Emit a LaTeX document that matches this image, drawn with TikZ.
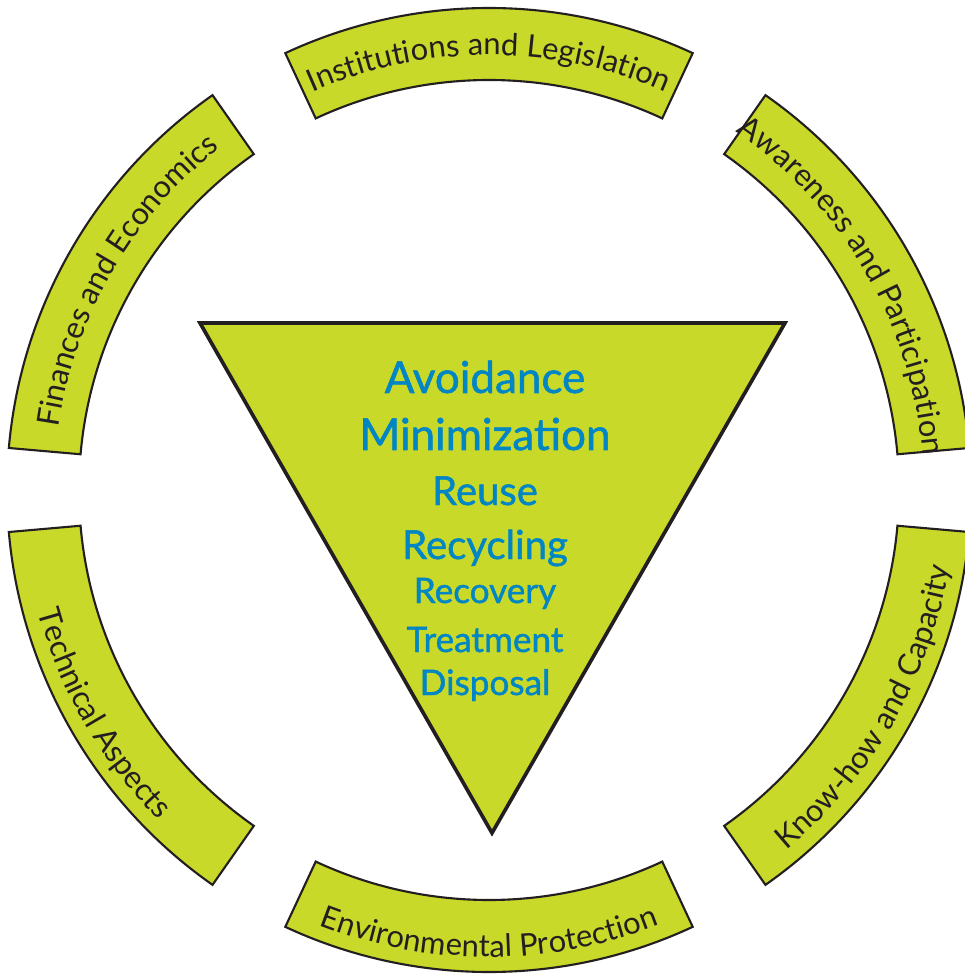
\documentclass[tikz,border=0pt]{standalone}
\usepackage{fontspec}
\setmainfont{Lato}
\newfontfamily\levelfont{Lato}[FakeBold=1.2]
\usepackage{tikz}
\usetikzlibrary{decorations.text}

\definecolor{lime}{RGB}{200,217,41}
\definecolor{hierblue}{RGB}{0,134,196}
\definecolor{outline}{RGB}{35,31,32}

\newcommand{\bandfont}{\fontsize{22}{26}\selectfont}

\begin{document}
\begin{tikzpicture}[x=0.25mm, y=0.25mm,
        band/.style={fill=lime, draw=outline, line width=1.5pt},
        tri/.style={fill=lime, draw=outline, line width=2.6pt, line join=miter},
        level/.style={text=hierblue, anchor=base, inner sep=0pt},
        bandtext/.style={decorate, decoration={text along path, text align=center,
            text color=outline, text={|\bandfont|#1}}}]
        \useasboundingbox (-489,-484) rectangle (476,490);

        % ring of six bands
        \foreach \a in {90,30,-30,-90,-150,150} {
            \draw[band] ({\a+25}:410) arc[start angle=\a+25, end angle=\a-25, radius=410]
                -- ({\a-25}:482) arc[start angle=\a-25, end angle=\a+25, radius=482] -- cycle;
        }

        % band labels, upper ones run clockwise
        \path[bandtext={Institutions and Legislation}] (120:435) arc[start angle=120, end angle=60, radius=435];
        \path[bandtext={Awareness and Participation}] (62:435) arc[start angle=62, end angle=-2, radius=435];
        \path[bandtext={Finances and Economics}] (180:435) arc[start angle=180, end angle=120, radius=435];
        % lower ones run counterclockwise
        \path[bandtext={Know-how and Capacity}] (-60:467) arc[start angle=-60, end angle=0, radius=467];
        \path[bandtext={Environmental Protection}] (-120:467) arc[start angle=-120, end angle=-60, radius=467];
        \path[bandtext={Technical Aspects}] (180:467) arc[start angle=180, end angle=240, radius=467];

        % inverted triangle
        \coordinate (tl) at (-289,167);
        \coordinate (tr) at (296,167);
        \coordinate (tip) at (3,-343);
        \draw[tri] (tl) -- (tr) -- (tip) -- cycle;

        % hierarchy levels
        \node[level, font=\levelfont\fontsize{31.3}{36}\selectfont] (avoid) at (-4,97) {Avoidance};
        \node[level, font=\levelfont\fontsize{31.3}{36}\selectfont] (minim) at (-4,40) {Minimization};
        \node[level, font=\levelfont\fontsize{28.5}{33}\selectfont] (reuse) at (-4,-15) {Reuse};
        \node[level, font=\levelfont\fontsize{28.5}{33}\selectfont] (recyc) at (-4,-69) {Recycling};
        \node[level, font=\levelfont\fontsize{25}{30}\selectfont] (recov) at (-4,-113) {Recovery};
        \node[level, font=\levelfont\fontsize{25}{30}\selectfont] (treat) at (-4,-162) {Treatment};
        \node[level, font=\levelfont\fontsize{25}{30}\selectfont] (dispo) at (-4,-205) {Disposal};
    \end{tikzpicture}
\end{document}
